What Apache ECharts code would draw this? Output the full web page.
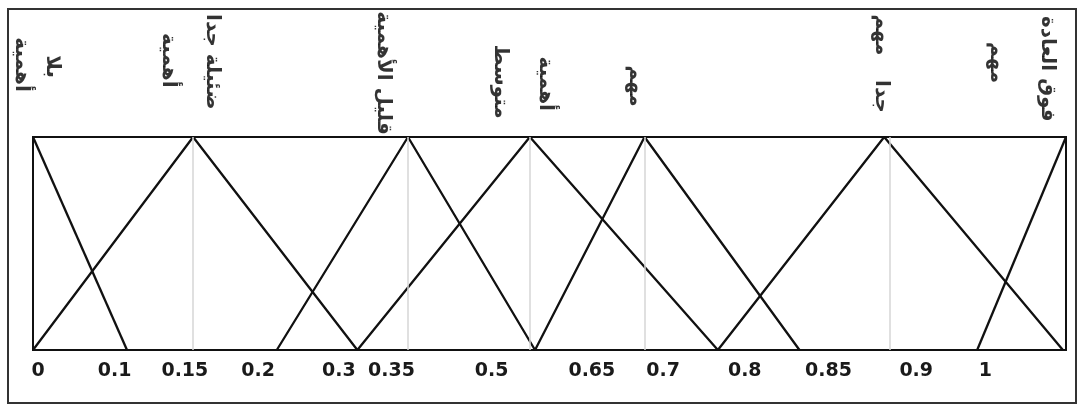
<!DOCTYPE html>
<html lang="ar">
<head>
    <meta charset="UTF-8">
    <title>Fuzzy scale</title>
    <script src="https://cdn.jsdelivr.net/npm/echarts/dist/echarts.min.js"></script>
    <style>
        html, body { margin: 0; padding: 0; background: #fff; }
    </style>
</head>
<body>
    <div id="main" style="width: 1078px; height: 407px;"></div>
    <script type="text/javascript">
        // x is measured along the drawn axis, 0 = left edge of the box, 100 = right edge
        // (the original drawing is not to scale, so positions are read off the picture)
        var tickPos = [0.5, 7.9, 14.7, 21.8, 29.6, 34.7, 44.4, 54.1, 61.0, 68.9, 77.0, 85.5, 92.2];
        var tickText = ['0', '0.1', '0.15', '0.2', '0.3', '0.35', '0.5', '0.65', '0.7', '0.8', '0.85', '0.9', '1'];

        // triangular membership functions: left foot, peak, right foot (null = open side)
        var leftFoot = [null, 0, 23.6, 31.4, 48.6, 66.3, 91.4];
        var peak = [0, 15.5, 36.3, 48.1, 59.2, 82.4, 100];
        var rightFoot = [9.1, 31.4, 48.6, 66.3, 74.2, 99.7, null];

        // faint vertical guide lines
        var guidePos = [15.5, 36.3, 48.1, 59.2, 82.9];

        // vertical Arabic words above the box: [x, y, text]  (y = 1 is the top of the box)
        var words = [
            [-1.1, 1.34, 'أهمية'],
            [1.9, 1.33, 'بلا'],
            [13.1, 1.36, 'أهمية'],
            [17.3, 1.26, 'ضئيلة'],
            [17.3, 1.50, 'جدا'],
            [33.9, 1.30, 'قليل الأهمية'],
            [45.2, 1.26, 'متوسط'],
            [49.6, 1.25, 'أهمية'],
            [58.3, 1.24, 'مهم'],
            [82.1, 1.48, 'مهم'],
            [82.1, 1.19, 'جدا'],
            [93.2, 1.35, 'مهم'],
            [98.2, 1.32, 'فوق العادة']
        ];

        var myChart = echarts.init(document.getElementById('main'));

        var series = [];
        series.push({
            type: 'line',
            data: [],
            silent: true,
            z: 1,
            markLine: {
                silent: true,
                symbol: 'none',
                label: { show: false },
                lineStyle: { color: '#d6d6d6', width: 1.5, type: 'solid' },
                data: guidePos.map(function (v) { return { xAxis: v }; })
            }
        });
        for (var i = 0; i < peak.length; i++) {
            var pts = [];
            if (leftFoot[i] !== null) pts.push([leftFoot[i], 0]);
            pts.push([peak[i], 1]);
            if (rightFoot[i] !== null) pts.push([rightFoot[i], 0]);
            series.push({
                type: 'line',
                data: pts,
                symbol: 'none',
                silent: true,
                z: 3,
                lineStyle: { color: '#111', width: 2.3 }
            });
        }
        series.push({
            type: 'scatter',
            data: words,
            symbolSize: 0,
            clip: false,
            silent: true,
            label: {
                show: true,
                position: 'inside',
                rotate: -90,
                color: '#000',
                fontFamily: 'DejaVu Sans',
                fontWeight: 'bold',
                fontSize: 20,
                formatter: function (p) { return p.data[2]; }
            }
        });

        option = {
            animation: false,
            backgroundColor: '#fff',
            grid: {
                left: 33,
                right: 12,
                top: 137,
                bottom: 57,
                show: true,
                borderColor: '#111',
                borderWidth: 2
            },
            xAxis: {
                type: 'value',
                min: 0,
                max: 100,
                axisLine: { show: false },
                axisTick: { show: false },
                splitLine: { show: false },
                axisLabel: {
                    customValues: tickPos,
                    margin: 12,
                    color: '#1a1a1a',
                    fontFamily: 'DejaVu Sans',
                    fontWeight: 'bold',
                    fontSize: 19,
                    formatter: function (v) {
                        var k = tickPos.indexOf(v);
                        return k >= 0 ? tickText[k] : '';
                    }
                }
            },
            yAxis: {
                type: 'value',
                min: 0,
                max: 1,
                show: false
            },
            graphic: [{
                type: 'rect',
                shape: { x: 8, y: 9, width: 1068, height: 394 },
                style: { fill: null, stroke: '#333', lineWidth: 2 },
                silent: true
            }],
            series: series
        };

        myChart.setOption(option);
    </script>
</body>
</html>
